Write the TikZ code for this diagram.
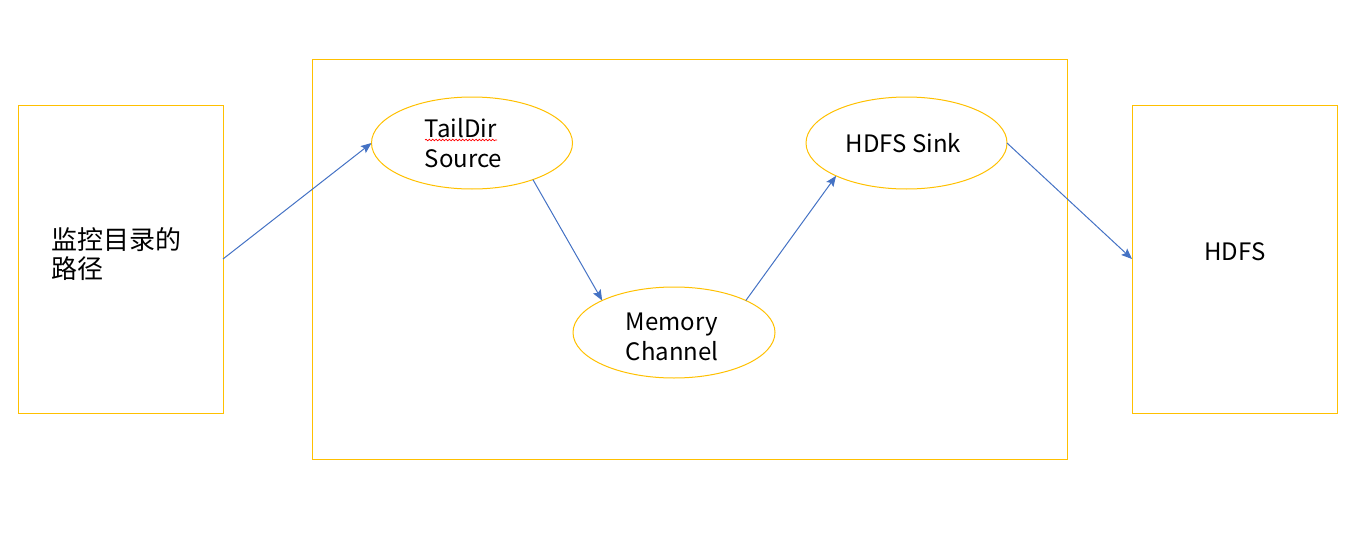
\documentclass[tikz,border=0pt]{standalone}
\usepackage{fontspec}
\setmainfont{Noto Sans CJK SC}
\usetikzlibrary{shapes.geometric,arrows.meta,decorations.pathmorphing}
\definecolor{gold}{HTML}{FFC000}
\definecolor{arrowblue}{HTML}{4472C4}
\begin{document}
\begin{tikzpicture}[x=0.75pt,y=-0.75pt,
  box/.style={draw=gold,line width=0.75pt,rectangle,inner sep=0,outer sep=0},
  oval/.style={draw=gold,line width=0.75pt,ellipse,inner sep=0,outer sep=0,minimum width=150.75pt,minimum height=69pt},
  lbl/.style={inner sep=0,align=left,font=\fontsize{18}{22.5}\selectfont},
  cjk/.style={inner sep=0,align=left,font=\fontsize{19.5}{21.75}\selectfont},
  conn/.style={draw=arrowblue,line width=0.75pt,-{Stealth[length=8pt,width=6.5pt,inset=1.5pt]}}]
\useasboundingbox (0,0) rectangle (1363,539);
\node[box,minimum width=153.75pt,minimum height=231pt] (L) at (120.5,259) {};
\node[box,minimum width=566.25pt,minimum height=300pt] (B) at (689.5,259) {};
\node[box,minimum width=153.75pt,minimum height=231pt] (R) at (1234.5,259) {};
\node[oval] (ts) at (472,143) {};
\node[oval,minimum width=151.5pt,minimum height=68.25pt] (mc) at (674,332.5) {};
\node[oval] (hs) at (906.5,143) {};
\node[lbl,anchor=west] (tst) at (424.5,143) {TailDir\\Source};
\node[lbl,anchor=west] (mct) at (625.5,337) {Memory\\Channel};
\node[lbl] (hst) at (903.5,143) {HDFS Sink};
\node[lbl] (rt) at (1235,251.5) {HDFS};
\node[cjk,anchor=west] (lt) at (51,254.5) {监控目录的\\路径};
\draw[red,line width=0.5pt,decorate,decoration={snake,amplitude=0.6pt,segment length=2.5pt}] (425,140) -- (497,140);
\draw[conn] (L.east) -- (ts.west);
\draw[conn] (ts.-31) -- (mc.156);
\draw[conn] (mc.24) -- (hs.205);
\draw[conn] (hs.east) -- (R.west);
\end{tikzpicture}
\end{document}
